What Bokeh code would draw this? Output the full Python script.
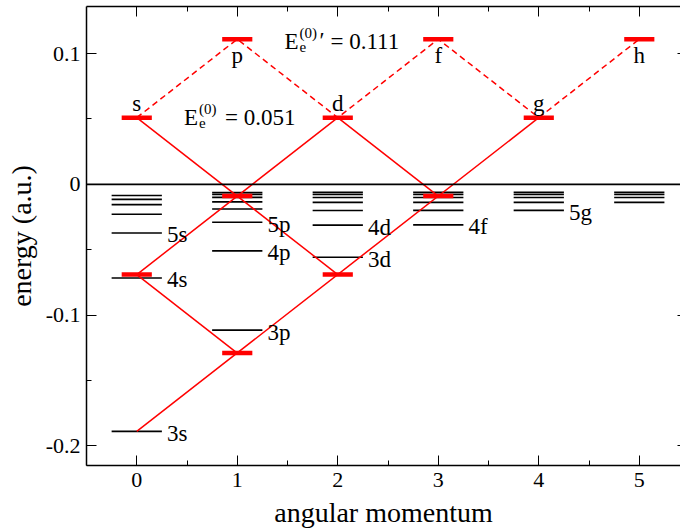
from bokeh.plotting import figure
from bokeh.models import (Range1d, LinearAxis, FixedTicker, Span,
                          CustomJSTickFormatter)
from bokeh.core.properties import value
from bokeh.embed import file_html
from bokeh.resources import INLINE

SERIF = "'Liberation Serif', 'Times New Roman', serif"

# Bound-state energies (a.u.) for each orbital angular momentum l
ell = [0, 1, 2, 3, 4, 5]
orbital = ["s", "p", "d", "f", "g", "h"]
energies_s = [-0.1889, -0.0716, -0.0372, -0.0229, -0.0155, -0.0115, -0.0085]
energies_p = [-0.1115, -0.0509, -0.0290, -0.0189, -0.0134, -0.0100, -0.0077, -0.0062]
energies_d = [-0.0557, -0.0312, -0.0200, -0.0138, -0.0101, -0.0077, -0.0061]
energies_f = [-0.0310, -0.0199, -0.0138, -0.0101, -0.0077, -0.0061]
energies_g = [-0.0199, -0.0138, -0.0101, -0.0077, -0.0061]
energies_h = [-0.0138, -0.0101, -0.0077, -0.0061]
all_levels = [energies_s, energies_p, energies_d, energies_f, energies_g, energies_h]

# Labelled states
state_names = ["3s", "4s", "5s", "3p", "4p", "5p", "3d", "4d", "4f", "5g"]
state_l = [0, 0, 0, 1, 1, 1, 2, 2, 3, 4]
state_E = [-0.1889, -0.0716, -0.0372, -0.1115, -0.0509, -0.0290,
           -0.0557, -0.0312, -0.0310, -0.0199]

# Unperturbed energies of the model
E0 = 0.051
E0_prime = 0.111
E0_series = [E0, E0_prime, E0, E0_prime, E0, E0_prime]

# Shifted model levels
model_l = [0, 1, 2, 3, 4, 5, 0, 1, 1, 2, 3]
model_E = [0.051, 0.111, 0.051, 0.111, 0.051, 0.111,
           -0.069, -0.129, -0.009, -0.069, -0.009]

# Solid links between model levels
link_l0 = [0, 2, 0, 0, 2]
link_E0 = [0.051, 0.051, -0.069, -0.1889, 0.051]
link_l1 = [2, 0, 1, 4, 3]
link_E1 = [-0.069, -0.069, -0.129, 0.051, -0.009]

HALF_LEVEL = 0.25
HALF_BAR = 0.15

p = figure(width=680, height=531, output_backend="svg", toolbar_location=None,
           x_range=Range1d(-0.5, 5.41), y_range=Range1d(-0.215, 0.136),
           min_border_left=86, min_border_right=0, min_border_top=6,
           min_border_bottom=66)
p.outline_line_color = None
p.grid.visible = False
p.background_fill_color = "white"
p.border_fill_color = "white"

# black level ticks
lx0, lx1, ly = [], [], []
for l, lev in zip(ell, all_levels):
    for e in lev:
        lx0.append(l - HALF_LEVEL)
        lx1.append(l + HALF_LEVEL)
        ly.append(e)
p.segment(x0=lx0, y0=ly, x1=lx1, y1=ly, line_color="black", line_width=1.6)

# zero of energy
p.add_layout(Span(location=0, dimension="width", line_color="black", line_width=1.6))

# dashed zig-zag between unperturbed levels
p.line(ell, E0_series, line_color="red", line_width=1.5, line_dash="6 4")

# solid links
p.segment(x0=link_l0, y0=link_E0, x1=link_l1, y1=link_E1, line_color="red", line_width=1.5)

# model level bars
p.segment(x0=[l - HALF_BAR for l in model_l], y0=model_E,
          x1=[l + HALF_BAR for l in model_l], y1=model_E,
          line_color="red", line_width=4.5)

# state labels
p.text(x=[l + 0.3 for l in state_l], y=state_E, text=state_names,
       text_font=value(SERIF), text_font_size="23px", text_baseline="middle",
       text_align="left", y_offset=2, text_color="black")

# orbital letters: below the upper levels, above the lower ones
low_idx = [i for i in ell if E0_series[i] == E0]
high_idx = [i for i in ell if E0_series[i] == E0_prime]
p.text(x=[ell[i] for i in low_idx], y=[E0_series[i] for i in low_idx],
       text=[orbital[i] for i in low_idx], text_font=value(SERIF),
       text_font_size="23px", text_align="center", text_baseline="alphabetic",
       y_offset=-14, text_color="black")
p.text(x=[ell[i] for i in high_idx], y=[E0_series[i] for i in high_idx],
       text=[orbital[i] for i in high_idx], text_font=value(SERIF),
       text_font_size="23px", text_align="center", text_baseline="alphabetic",
       y_offset=16, text_color="black")


def energy_label(x, y, number, prime):
    kw = dict(text_font=value(SERIF), text_color="black", text_align="left",
              text_baseline="middle")
    p.text(x=[x], y=[y], text=["E"], text_font_size="23px", **kw)
    p.text(x=[x], y=[y], text=["(0)"], text_font_size="15px", x_offset=15, y_offset=-9, **kw)
    p.text(x=[x], y=[y], text=["e"], text_font_size="15px", x_offset=15, y_offset=5, **kw)
    start = 41
    if prime:
        p.text(x=[x], y=[y], text=["\u2032"], text_font_size="23px", x_offset=35, y_offset=-1, **kw)
        start = 46
    p.text(x=[x], y=[y], text=["= " + number], text_font_size="23px", x_offset=start, **kw)


energy_label(0.47, E0, f"{E0:.3f}", False)
energy_label(1.47, E0_prime - 0.002, f"{E0_prime:.3f}", True)

# axes
for ax in (p.xaxis[0], p.yaxis[0]):
    ax.major_label_text_font = SERIF
    ax.major_label_text_font_size = "22px"
    ax.major_label_text_color = "black"
    ax.axis_label_text_font = SERIF
    ax.axis_label_text_font_size = "28px"
    ax.axis_label_text_font_style = "normal"
    ax.axis_label_text_color = "black"
    ax.axis_line_width = 1.5
    ax.axis_line_color = "black"
    ax.major_tick_in = 10
    ax.major_tick_out = 0
    ax.minor_tick_in = 5
    ax.minor_tick_out = 0
    ax.major_tick_line_color = "black"
    ax.minor_tick_line_color = "black"

p.xaxis.axis_label = "angular momentum"
p.yaxis.axis_label = "energy (a.u.)"
p.xaxis.ticker = FixedTicker(ticks=ell, minor_ticks=[l + 0.5 for l in ell[:-1]] + [-0.5])
p.yaxis.ticker = FixedTicker(ticks=[-0.2, -0.1, 0, 0.1],
                             minor_ticks=[-0.15, -0.05, 0.05])
p.yaxis.major_label_overrides = {-0.2: "-0.2", -0.1: "-0.1", 0: "0", 0.1: "0.1"}
p.xaxis.major_label_standoff = 7
p.yaxis.major_label_standoff = 6
p.xaxis.axis_label_standoff = 7
p.yaxis.axis_label_standoff = 6

blank = CustomJSTickFormatter(code="return ''")
top = LinearAxis(ticker=FixedTicker(ticks=ell, minor_ticks=[l + 0.5 for l in ell[:-1]]),
                 formatter=blank, major_tick_in=10, major_tick_out=0,
                 minor_tick_in=5, minor_tick_out=0, axis_line_width=1.5,
                 major_label_standoff=0)
p.add_layout(top, "above")
right = LinearAxis(ticker=FixedTicker(ticks=[-0.2, -0.1, 0, 0.1], minor_ticks=[]),
                   formatter=CustomJSTickFormatter(code="return ''"),
                   major_tick_in=3, major_tick_out=0, minor_tick_in=0, minor_tick_out=0,
                   axis_line_color=None, major_label_standoff=0)
p.add_layout(right, "right")

open("out.html", "w").write(file_html(p, INLINE))
